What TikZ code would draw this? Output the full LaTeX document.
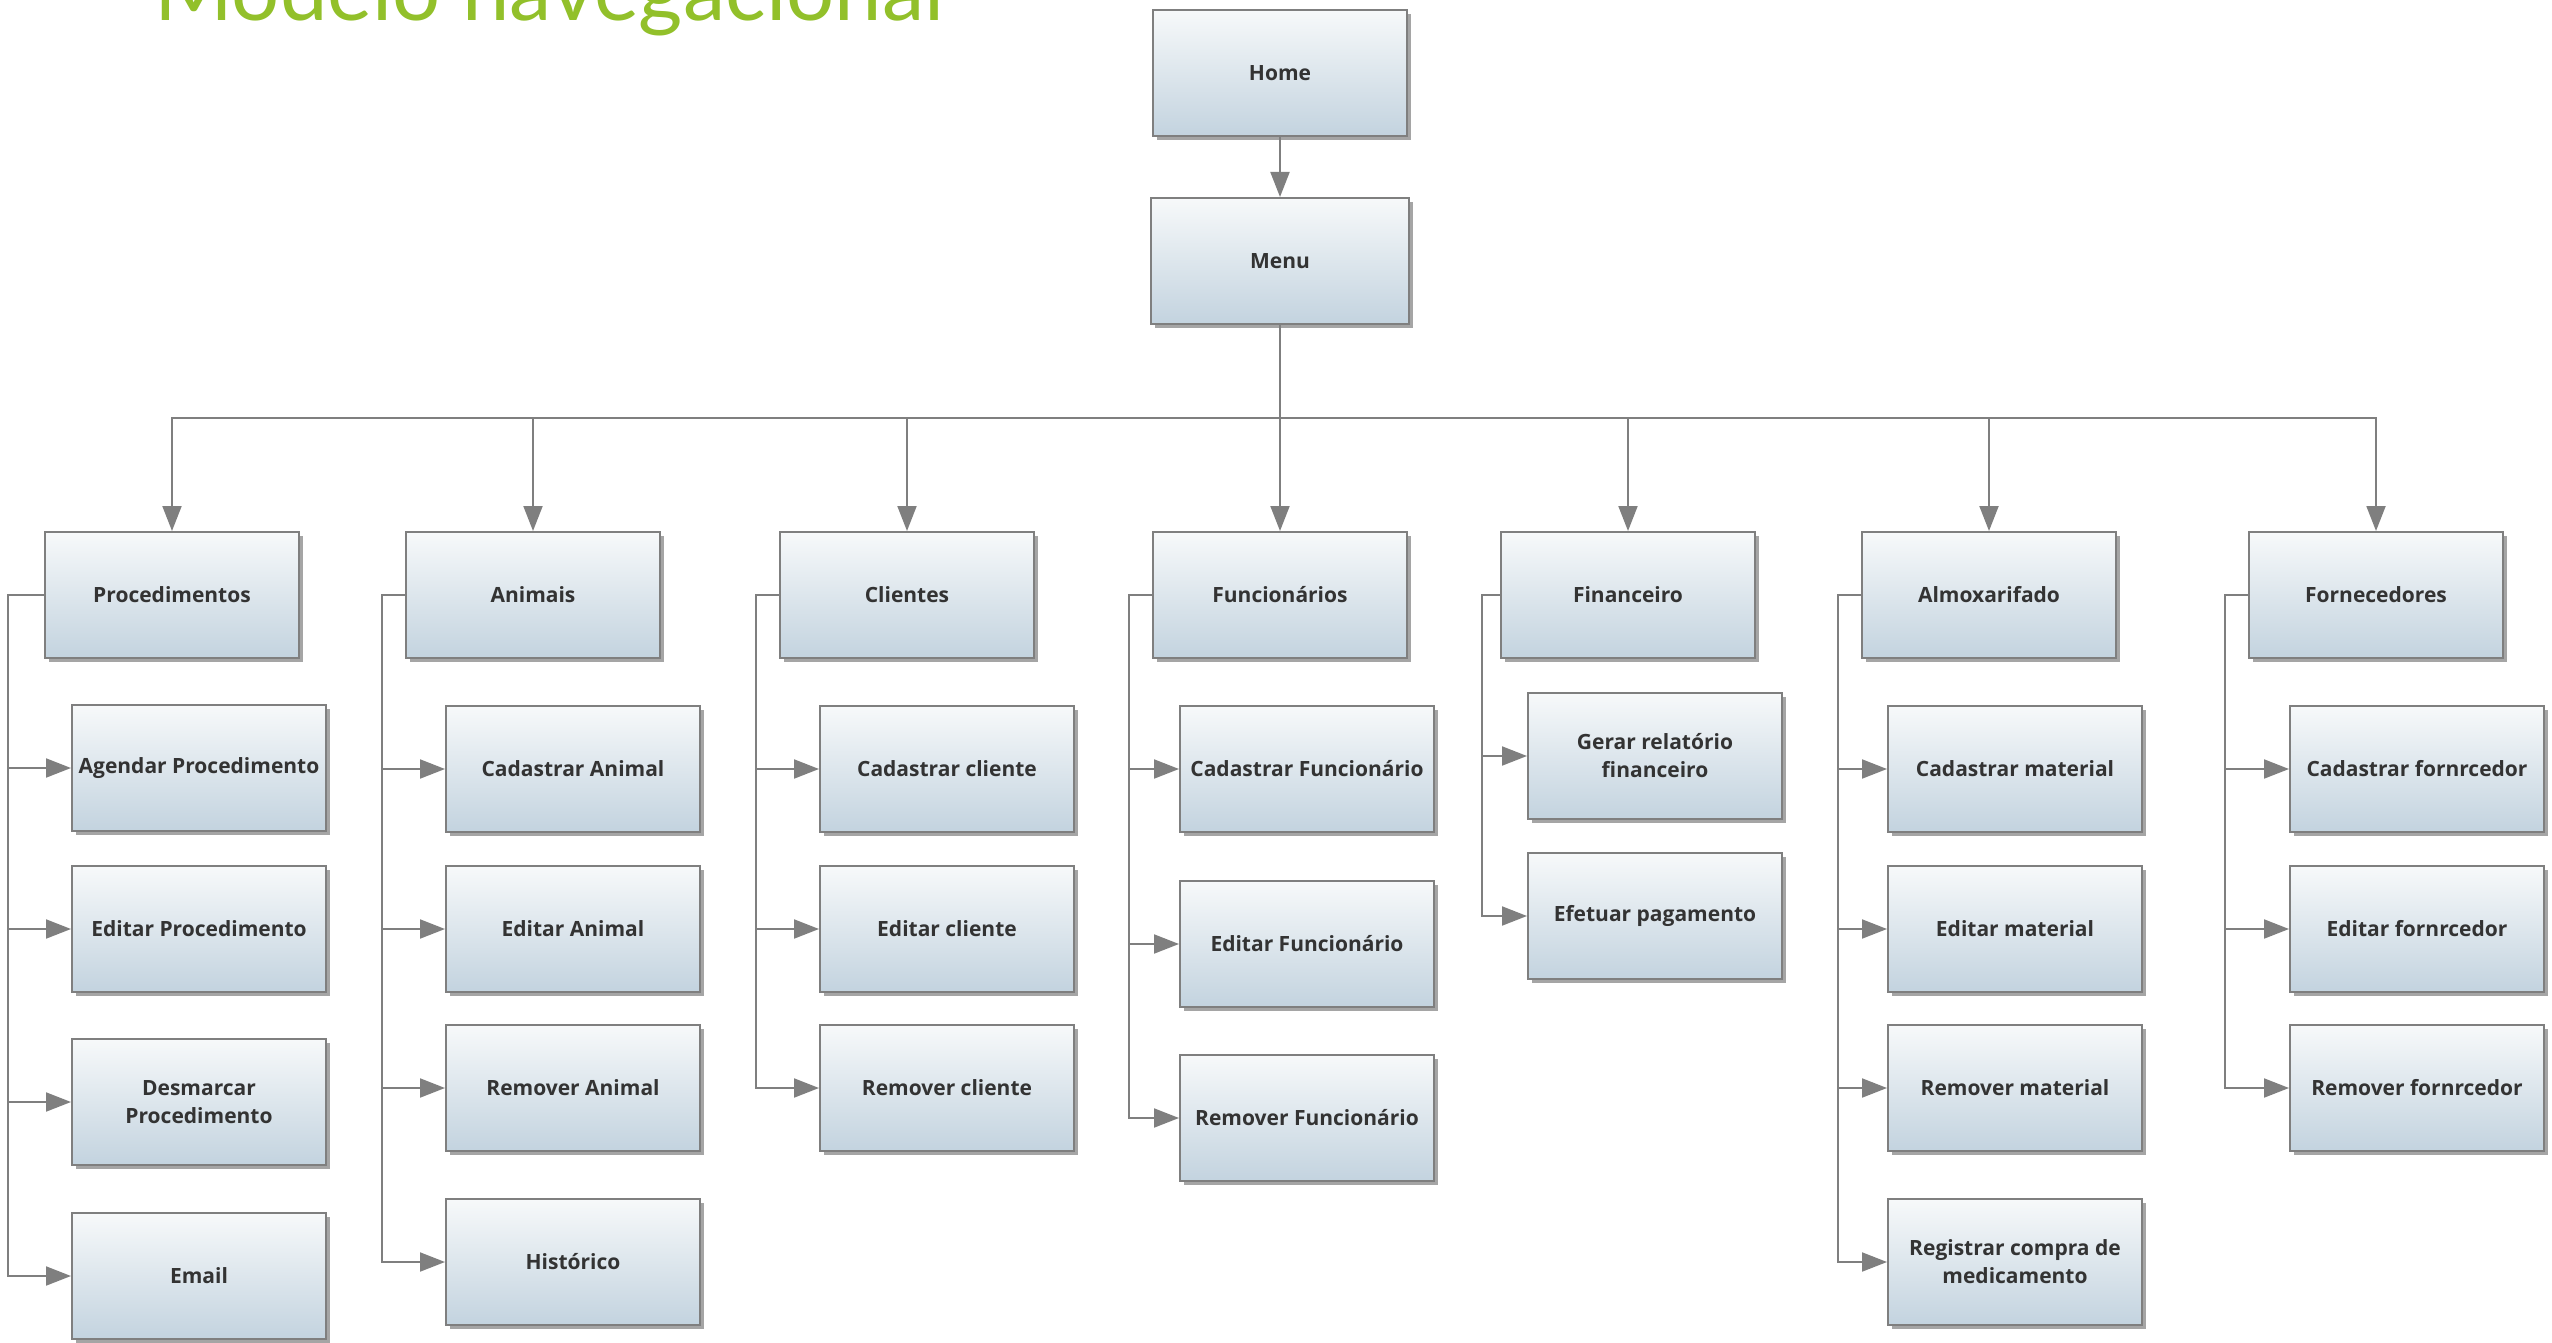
\documentclass[tikz,border=0pt]{standalone}
\usepackage{fontspec}
\setmainfont{Open Sans}
\newfontfamily\titlefont{Lato}
\usepackage{tikz}
\usetikzlibrary{arrows.meta,shadows,positioning}
\definecolor{colorline}{HTML}{7F7F7F}
\definecolor{colortop}{HTML}{F7F9FA}
\definecolor{colorbot}{HTML}{C3D3DF}
\definecolor{colortext}{HTML}{333333}
\definecolor{colortitle}{HTML}{92C02A}
\tikzset{screen/.style={draw=colorline, line width=2pt, top color=colortop,
  bottom color=colorbot, minimum width=254pt, minimum height=126pt,
  inner sep=2pt, align=center, text=colortext,
  font=\fontsize{21}{28}\selectfont\bfseries,
  drop shadow={shadow xshift=4pt, shadow yshift=-4pt, opacity=0.5, fill=black!70}}}
\tikzset{pagetitle/.style={inner sep=0pt, anchor=base west, text=colortitle,
  font=\titlefont\fontsize{85}{85}\selectfont}}
\tikzset{
  edgeto/.style={colorline, line width=2pt, -{Triangle[length=25pt,width=19pt]}},
  edgeplain/.style={colorline, line width=2pt}
}

\begin{document}
\begin{tikzpicture}[x=1pt,y=-1pt]
\useasboundingbox (0,0) rectangle (2552,1343);

\node[pagetitle](title) at (154,21) {Modelo navegacional};

\node[screen](home) at (1280,73) {Home};
\node[screen, minimum width=258pt](menu) at (1280,261) {Menu};

\node[screen](proc) at (172,595) {Procedimentos};
\node[screen](anim) at (533,595) {Animais};
\node[screen](cli) at (907,595) {Clientes};
\node[screen](func) at (1280,595) {Funcionários};
\node[screen](fin) at (1628,595) {Financeiro};
\node[screen](almox) at (1989,595) {Almoxarifado};
\node[screen](forn) at (2376,595) {Fornecedores};

\node[screen](agproc) at (199,768) {Agendar Procedimento};
\node[screen](edproc) at (199,929) {Editar Procedimento};
\node[screen](dsproc) at (199,1102) {Desmarcar\\Procedimento};
\node[screen](email) at (199,1276) {Email};

\node[screen](cadanim) at (573,769) {Cadastrar Animal};
\node[screen](edanim) at (573,929) {Editar Animal};
\node[screen](remanim) at (573,1088) {Remover Animal};
\node[screen](hist) at (573,1262) {Histórico};

\node[screen](cadcli) at (947,769) {Cadastrar cliente};
\node[screen](edcli) at (947,929) {Editar cliente};
\node[screen](remcli) at (947,1088) {Remover cliente};

\node[screen](cadfunc) at (1307,769) {Cadastrar Funcionário};
\node[screen](edfunc) at (1307,944) {Editar Funcionário};
\node[screen](remfunc) at (1307,1118) {Remover Funcionário};

\node[screen](relfin) at (1655,756) {Gerar relatório\\financeiro};
\node[screen](pagfin) at (1655,916) {Efetuar pagamento};

\node[screen](cadmat) at (2015,769) {Cadastrar material};
\node[screen](edmat) at (2015,929) {Editar material};
\node[screen](remmat) at (2015,1088) {Remover material};
\node[screen](regmed) at (2015,1262) {Registrar compra de\\medicamento};

\node[screen](cadforn) at (2417,769) {Cadastrar fornrcedor};
\node[screen](edforn) at (2417,929) {Editar fornrcedor};
\node[screen](remforn) at (2417,1088) {Remover fornrcedor};

\coordinate (bus) at (1280,418);

\draw[edgeto] (home) -- (menu);

\draw[edgeto] (menu.south) -- (menu.south |- bus) -| (proc.north);
\draw[edgeto] (menu.south) -- (menu.south |- bus) -| (anim.north);
\draw[edgeto] (menu.south) -- (menu.south |- bus) -| (cli.north);
\draw[edgeto] (menu.south) -- (func.north);
\draw[edgeto] (menu.south) -- (menu.south |- bus) -| (fin.north);
\draw[edgeto] (menu.south) -- (menu.south |- bus) -| (almox.north);
\draw[edgeto] (menu.south) -- (menu.south |- bus) -| (forn.north);

\draw[edgeto] (proc.west) -- ++(-36,0) |- (agproc.west);
\draw[edgeto] (proc.west) -- ++(-36,0) |- (edproc.west);
\draw[edgeto] (proc.west) -- ++(-36,0) |- (dsproc.west);
\draw[edgeto] (proc.west) -- ++(-36,0) |- (email.west);

\draw[edgeto] (anim.west) -- ++(-23,0) |- (cadanim.west);
\draw[edgeto] (anim.west) -- ++(-23,0) |- (edanim.west);
\draw[edgeto] (anim.west) -- ++(-23,0) |- (remanim.west);
\draw[edgeto] (anim.west) -- ++(-23,0) |- (hist.west);

\draw[edgeto] (cli.west) -- ++(-23,0) |- (cadcli.west);
\draw[edgeto] (cli.west) -- ++(-23,0) |- (edcli.west);
\draw[edgeto] (cli.west) -- ++(-23,0) |- (remcli.west);

\draw[edgeto] (func.west) -- ++(-23,0) |- (cadfunc.west);
\draw[edgeto] (func.west) -- ++(-23,0) |- (edfunc.west);
\draw[edgeto] (func.west) -- ++(-23,0) |- (remfunc.west);

\draw[edgeto] (fin.west) -- ++(-18,0) |- (relfin.west);
\draw[edgeto] (fin.west) -- ++(-18,0) |- (pagfin.west);

\draw[edgeto] (almox.west) -- ++(-23,0) |- (cadmat.west);
\draw[edgeto] (almox.west) -- ++(-23,0) |- (edmat.west);
\draw[edgeto] (almox.west) -- ++(-23,0) |- (remmat.west);
\draw[edgeto] (almox.west) -- ++(-23,0) |- (regmed.west);

\draw[edgeto] (forn.west) -- ++(-23,0) |- (cadforn.west);
\draw[edgeto] (forn.west) -- ++(-23,0) |- (edforn.west);
\draw[edgeto] (forn.west) -- ++(-23,0) |- (remforn.west);
\end{tikzpicture}
\end{document}
